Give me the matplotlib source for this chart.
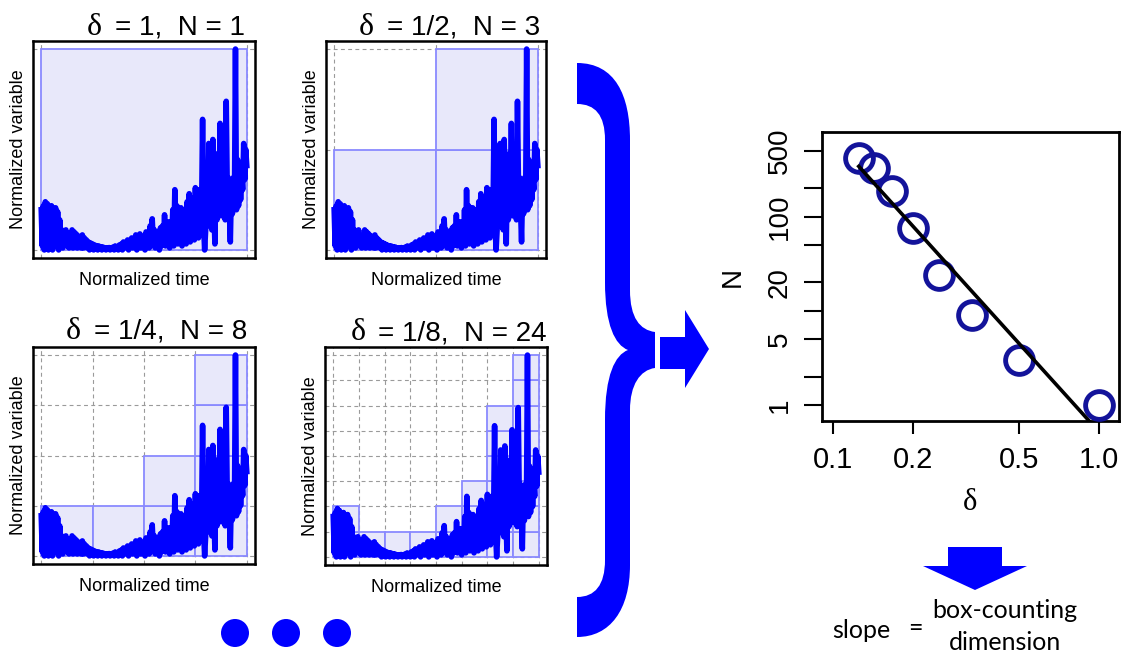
import numpy as np
import matplotlib
matplotlib.use('Agg')
import matplotlib.pyplot as plt
from matplotlib.path import Path
from matplotlib.patches import PathPatch, Polygon, Rectangle, Circle
from matplotlib.ticker import NullLocator

# ---------------- data ----------------
series = [
    0.20, 0.02, 0.22, 0.00, 0.24, 0.05, 0.23, 0.00, 0.21, 0.03, 0.22, 0.00, 0.20, 0.04, 0.21, 0.02, 0.19, 0.00, 0.15, 0.03,
    0.10, 0.01, 0.09, 0.03, 0.10, 0.02, 0.05, 0.01, 0.04, 0.02, 0.10, 0.01, 0.09, 0.03, 0.08, 0.01, 0.07, 0.02, 0.06, 0.01,
    0.075, 0.01, 0.06, 0.02, 0.05, 0.01, 0.04, 0.00, 0.035, 0.01, 0.03, 0.00, 0.025, 0.01, 0.02, 0.00, 0.02, 0.005, 0.015, 0.00,
    0.015, 0.005, 0.01, 0.00, 0.01, 0.005, 0.012, 0.00, 0.01, 0.005, 0.015, 0.00, 0.02, 0.005, 0.015, 0.00, 0.025, 0.005, 0.03, 0.00,
    0.04, 0.01, 0.035, 0.015, 0.05, 0.00, 0.045, 0.02, 0.06, 0.01, 0.055, 0.025, 0.075, 0.00, 0.065, 0.02, 0.08, 0.01, 0.06, 0.02,
    0.07, 0.00, 0.09, 0.03, 0.08, 0.01, 0.12, 0.02, 0.155, 0.04, 0.10, 0.01, 0.08, 0.03, 0.09, 0.00, 0.11, 0.02, 0.12, 0.04,
    0.175, 0.02, 0.13, 0.05, 0.14, 0.01, 0.12, 0.04, 0.20, 0.02, 0.30, 0.06, 0.22, 0.03, 0.18, 0.05, 0.21, 0.02, 0.20, 0.06,
    0.19, 0.03, 0.24, 0.07, 0.28, 0.04, 0.22, 0.08, 0.26, 0.05, 0.31, 0.09, 0.25, 0.06, 0.30, 0.10, 0.18, 0.65, 0.12, 0.00,
    0.10, 0.30, 0.12, 0.53, 0.18, 0.35, 0.10, 0.55, 0.20, 0.03, 0.40, 0.15, 0.48, 0.22, 0.63, 0.17, 0.47, 0.20, 0.45, 0.15,
    0.74, 0.30, 0.36, 0.20, 0.04, 0.30, 0.18, 0.36, 0.25, 1.00, 0.20, 0.45, 0.22, 0.40, 0.25, 0.38, 0.30, 0.53, 0.35, 0.50, 0.42,
]
series = np.array(series)
time = np.linspace(0, 1, len(series))

panel_delta = [1, 1/2, 1/4, 1/8]
panel_delta_labels = ['1', '1/2', '1/4', '1/8']
panel_N = [1, 3, 8, 24]

fit_delta = [1, 1/2, 1/3, 1/4, 1/5, 1/6, 1/7, 1/8]
fit_N = [1, 3, 9, 24, 76, 185, 331, 414]

x_ticks = [0.1, 0.2, 0.5, 1.0]
x_tick_labels = ['0.1', '0.2', '0.5', '1.0']
y_ticks = [1, 2, 5, 10, 20, 50, 100, 200, 500]
y_tick_labels = ['1', '', '5', '', '20', '', '100', '', '500']

# ---------------- figure ----------------
W, H = 1121, 656
fig = plt.figure(figsize=(W / 100, H / 100), dpi=100)
BLUE = '#0000ff'

ov = fig.add_axes([0, 0, 1, 1], zorder=0)
ov.set_xlim(0, W)
ov.set_ylim(H, 0)
ov.axis('off')


def px_axes(x0, y0, x1, y1):
    return fig.add_axes([x0 / W, 1 - y1 / H, (x1 - x0) / W, (y1 - y0) / H], zorder=1)


SANS = 'Liberation Sans'
SERIF = 'Liberation Serif'

positions = [(33, 41, 255, 258), (326, 41, 546, 258), (33, 347, 255, 564), (325, 347, 547, 565)]
title_right = [245, 540, 247, 547]
title_base = [35, 35, 339, 340]

renderer = fig.canvas.get_renderer()

for k, d in enumerate(panel_delta):
    ax = px_axes(*positions[k])
    ax.set_xlim(-0.04, 1.04)
    ax.set_ylim(-0.04, 1.04)
    ax.set_xticks([])
    ax.set_yticks([])
    for s in ax.spines.values():
        s.set_linewidth(1.8)
    n = int(round(1 / d))
    for g in np.linspace(0, 1, n + 1):
        ax.axvline(g, ls=(0, (3.5, 3)), color='#9a9a9a', lw=0.8, zorder=1)
        ax.axhline(g, ls=(0, (3.5, 3)), color='#9a9a9a', lw=0.8, zorder=1)
    for j in range(n):
        m = (time >= j * d - 1e-9) & (time <= (j + 1) * d + 1e-9)
        vals = series[m]
        lo = int(np.floor(vals.min() / d + 1e-9))
        hi = int(np.ceil(vals.max() / d - 1e-9))
        hi = max(hi, lo + 1)
        for r in range(lo, hi):
            ax.add_patch(Rectangle((j * d, r * d), d, d, facecolor='#e8e8fa',
                                   edgecolor='#8a8aff', lw=1.3, zorder=2))
    ax.plot(time, series, color=BLUE, lw=4.0, zorder=3, solid_joinstyle='round')
    ax.set_ylabel('Normalized variable', fontsize=13, family=SANS, labelpad=4)
    ax.set_xlabel('Normalized time', fontsize=13, family=SANS, labelpad=10)

    rest = ov.text(title_right[k], title_base[k], f'= {panel_delta_labels[k]},  N = {panel_N[k]}',
                   ha='right', va='baseline', fontsize=20, family=SANS)
    bb = rest.get_window_extent(renderer)
    ov.text(bb.x0 - 13, title_base[k], 'δ', ha='right', va='baseline', fontsize=23, family=SERIF)

# ---------------- log-log plot ----------------
ax = px_axes(822, 132, 1119, 421)
ax.set_xscale('log')
ax.set_yscale('log')
ax.set_xlim(0.0909, 1.19)
ax.set_ylim(0.676, 791)
ax.xaxis.set_minor_locator(NullLocator())
ax.yaxis.set_minor_locator(NullLocator())
ax.set_xticks(x_ticks)
ax.set_xticklabels(x_tick_labels, fontsize=21, family=SANS)
ax.set_yticks(y_ticks)
ax.set_yticklabels(y_tick_labels, fontsize=20, family=SANS, rotation=90, va='center')
ax.tick_params(axis='x', length=9, width=1.5, pad=9)
ax.tick_params(axis='y', length=13, width=1.5, pad=8)
for s in ax.spines.values():
    s.set_linewidth(2)

ax.plot(fit_delta, fit_N, 'o', mfc='none', mec='#13139a', ms=20, mew=3.5, zorder=3, clip_on=False)
coef = np.polyfit(np.log10(fit_delta), np.log10(fit_N), 1)
xs = np.array([min(fit_delta), max(fit_delta)])
ax.plot(xs, 10 ** np.polyval(coef, np.log10(xs)), color='black', lw=2.6, zorder=4)

ov.text(733, 277, 'N', rotation=90, ha='center', va='center', fontsize=20, family=SANS)
ov.text(970, 503, 'δ', ha='center', va='center', fontsize=22, family=SERIF)

# ---------------- brace and arrows ----------------
verts = [
    (577, 63),
    (615, 63), (630, 95), (630, 140),
    (630, 290),
    (630, 318), (640, 330), (655, 332),
    (655, 368),
    (640, 370), (630, 385), (630, 410),
    (630, 565),
    (630, 610), (610, 637), (577, 637),
    (577, 597),
    (595, 597), (605, 585), (605, 560),
    (605, 420),
    (605, 375), (615, 355), (628, 350),
    (615, 345), (605, 325), (605, 282),
    (605, 140),
    (605, 115), (595, 104), (577, 104),
    (577, 63),
]
codes = [Path.MOVETO,
         Path.CURVE4, Path.CURVE4, Path.CURVE4,
         Path.LINETO,
         Path.CURVE4, Path.CURVE4, Path.CURVE4,
         Path.LINETO,
         Path.CURVE4, Path.CURVE4, Path.CURVE4,
         Path.LINETO,
         Path.CURVE4, Path.CURVE4, Path.CURVE4,
         Path.LINETO,
         Path.CURVE4, Path.CURVE4, Path.CURVE4,
         Path.LINETO,
         Path.CURVE4, Path.CURVE4, Path.CURVE4,
         Path.CURVE4, Path.CURVE4, Path.CURVE4,
         Path.LINETO,
         Path.CURVE4, Path.CURVE4, Path.CURVE4,
         Path.CLOSEPOLY]
ov.add_patch(PathPatch(Path(verts, codes), facecolor=BLUE, edgecolor='none'))

ov.add_patch(Polygon([(660, 337), (685, 337), (685, 310), (709, 349), (685, 388), (685, 369), (660, 369)],
                     closed=True, facecolor=BLUE, edgecolor='none'))
ov.add_patch(Polygon([(948, 547), (1002, 547), (1002, 566), (1027, 566), (975, 590), (923, 566), (948, 566)],
                     closed=True, facecolor=BLUE, edgecolor='none'))

for cx in (235, 286, 337):
    ov.add_patch(Circle((cx, 633), 14, facecolor=BLUE, edgecolor='none'))

ov.text(832, 631, 'slope', ha='left', va='center', fontsize=18, family='Lato')
ov.text(915, 629, '=', ha='center', va='center', fontsize=18, family='Lato')
ov.text(1005, 611, 'box-counting', ha='center', va='center', fontsize=18, family='Lato')
ov.text(1005, 643, 'dimension', ha='center', va='center', fontsize=18, family='Lato')

fig.savefig('out.png', dpi=100)
